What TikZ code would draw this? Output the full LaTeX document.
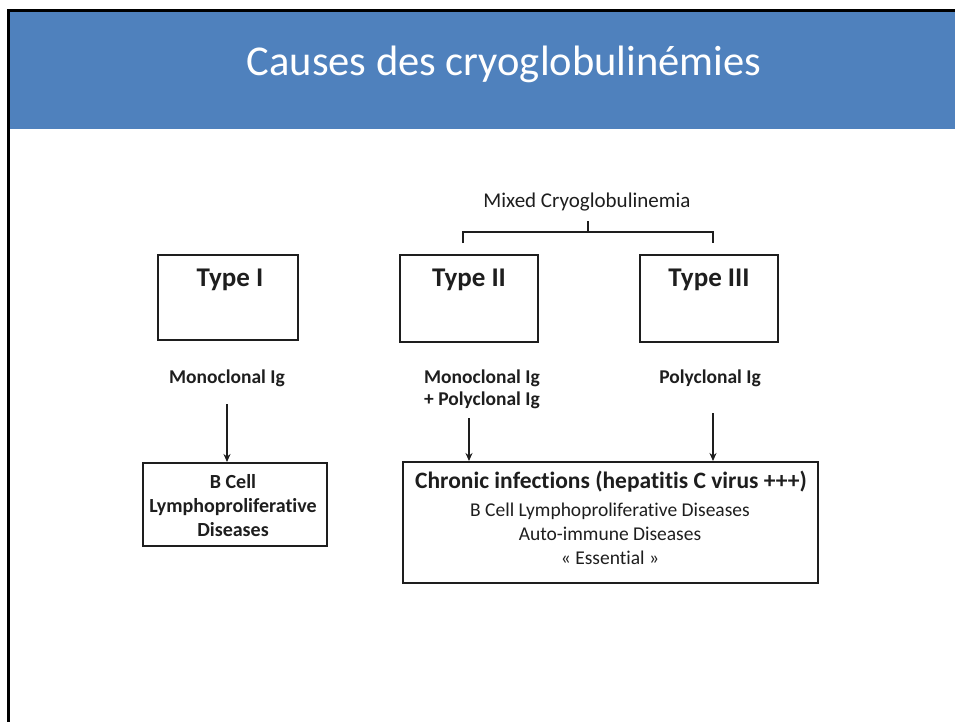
\documentclass[tikz,border=0pt]{standalone}
\usepackage{fontspec}
\setmainfont{Carlito}[Ligatures={NoCommon}]
\usetikzlibrary{arrows.meta}
\definecolor{band}{HTML}{4F81BD}
\definecolor{ink}{HTML}{1E1E1E}
\begin{document}
\begin{tikzpicture}[x=1pt,y=-1pt,
  boxstyle/.style={draw=ink,line width=2pt},
  lbl/.style={text=ink,font=\fontsize{19.5}{22}\selectfont\bfseries,align=center,inner sep=0pt},
  reg/.style={text=ink,font=\fontsize{19.5}{24}\selectfont,align=center,inner sep=0pt},
  typetxt/.style={text=ink,font=\fontsize{27}{30}\selectfont\bfseries,inner sep=0pt},
  arr/.style={draw=ink,line width=1.9pt,-{Stealth[length=8pt,width=7pt]}}]
\useasboundingbox (0,0) rectangle (955,722);
\fill[white] (0,0) rectangle (955,722);
% title band
\fill[band] (9,11) rectangle (955,129);
\draw[black,line width=3pt] (8,11) -- (955,11);
\draw[black,line width=3pt] (8,9.5) -- (8,722);
\node[text=white,font=\fontsize{42.5}{48}\selectfont,inner sep=0pt] (title) at (504,64) {Causes des cryoglobulinémies};
% Type boxes
\node[boxstyle,minimum width=140pt,minimum height=85pt,inner sep=0pt] (t1) at (228,297.5) {};
\node[typetxt] (t1t) at (230,280) {Type I};
\node[boxstyle,minimum width=138pt,minimum height=87pt,inner sep=0pt] (t2) at (469,298.5) {};
\node[typetxt] (t2t) at (469,280) {Type II};
\node[boxstyle,minimum width=138pt,minimum height=87pt,inner sep=0pt] (t3) at (709,298.5) {};
\node[typetxt] (t3t) at (709,280) {Type III};
% mixed bracket
\node[reg,font=\fontsize{21}{24}\selectfont] (mixed) at (587,202) {Mixed Cryoglobulinemia};
\coordinate (bm) at (588,221);
\coordinate (bl) at (463,243);
\coordinate (br) at (713,243);
\draw[ink,line width=1.8pt] (bm) -- (588,232) (bl) -- (463,232) -- (713,232) -- (br);
% Ig labels
\node[lbl] (m1) at (227,378) {Monoclonal Ig};
\node[lbl] (m2) at (482,389) {Monoclonal Ig\\+ Polyclonal Ig};
\node[lbl] (m3) at (710,378) {Polyclonal Ig};
% result boxes
\node[boxstyle,minimum width=184pt,minimum height=83pt,inner sep=0pt] (b1) at (235,504.5) {};
\node[lbl,font=\fontsize{20}{24}\selectfont\bfseries] (b1t) at (233,506) {B Cell\\Lymphoproliferative\\Diseases};
\node[boxstyle,minimum width=415pt,minimum height=121pt,inner sep=0pt] (b2) at (610.5,522.5) {};
\node[lbl,font=\fontsize{23.5}{24}\selectfont\bfseries] (b2a) at (611,482) {Chronic infections (hepatitis C virus +++)};
\node[reg] (b2b) at (610,533.5) {B Cell Lymphoproliferative Diseases\\Auto-immune Diseases\\« Essential »};
% arrows
\coordinate (a1s) at (227,404);
\coordinate (a2s) at (469,418);
\coordinate (a3s) at (713,413);
\draw[arr] (a1s) -- (b1.north -| a1s);
\draw[arr] (a2s) -- (b2.north -| a2s);
\draw[arr] (a3s) -- (b2.north -| a3s);
\end{tikzpicture}
\end{document}
